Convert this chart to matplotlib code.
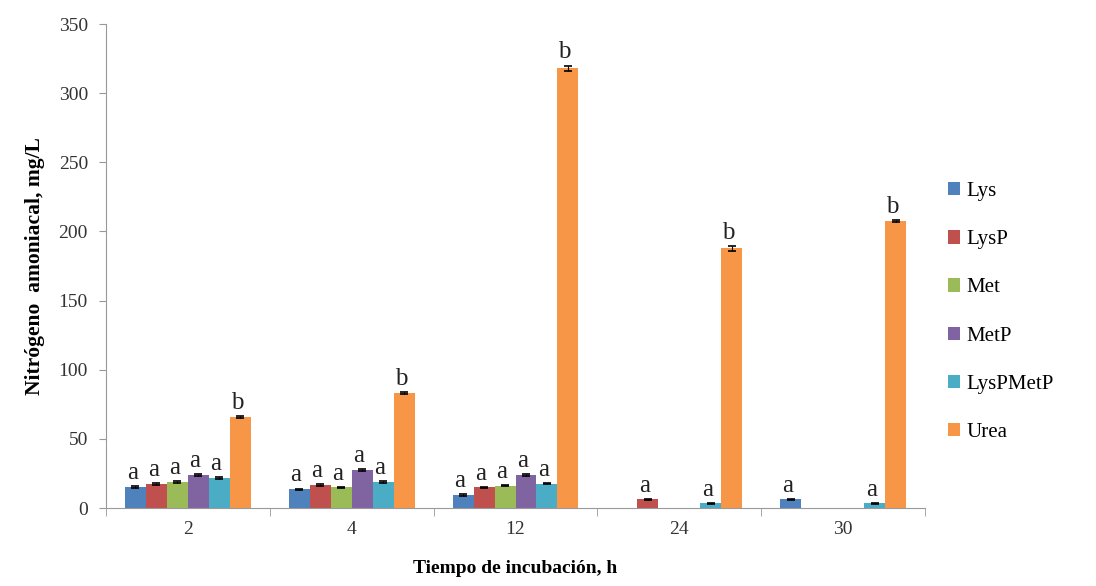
import matplotlib.pyplot as plt
import numpy as np

# ==== data ====
tiempos = ['2', '4', '12', '24', '30']
series = ['Lys', 'LysP', 'Met', 'MetP', 'LysPMetP', 'Urea']
valores = {
    'Lys':      [15.2, 13.5, 9.4, 0.0, 6.3],
    'LysP':     [17.4, 16.9, 15.0, 6.3, 0.0],
    'Met':      [19.0, 15.0, 16.1, 0.0, 0.0],
    'MetP':     [24.0, 27.3, 24.0, 0.0, 0.0],
    'LysPMetP': [21.7, 19.0, 17.6, 3.4, 3.4],
    'Urea':     [65.8, 83.0, 318.0, 187.7, 207.5],
}
errores = {
    'Lys':      [0.6, 0.6, 0.5, 0.0, 0.4],
    'LysP':     [0.6, 0.6, 0.5, 0.4, 0.0],
    'Met':      [0.6, 0.5, 0.5, 0.0, 0.0],
    'MetP':     [0.6, 0.6, 0.6, 0.0, 0.0],
    'LysPMetP': [0.6, 0.6, 0.5, 0.4, 0.4],
    'Urea':     [0.8, 0.8, 2.0, 2.0, 1.0],
}
letras = {
    'Lys':      ['a', 'a', 'a', '', 'a'],
    'LysP':     ['a', 'a', 'a', 'a', ''],
    'Met':      ['a', 'a', 'a', '', ''],
    'MetP':     ['a', 'a', 'a', '', ''],
    'LysPMetP': ['a', 'a', 'a', 'a', 'a'],
    'Urea':     ['b', 'b', 'b', 'b', 'b'],
}
colores = ['#4F81BD', '#C0504D', '#9BBB59', '#8064A2', '#4BACC6', '#F79646']

plt.rcParams['font.family'] = ['Liberation Serif', 'DejaVu Serif']

fig = plt.figure(figsize=(10.96, 5.86), dpi=100)
ax = fig.add_axes([0.0967, 0.133, 0.7473, 0.826])

x = np.arange(len(tiempos))
w = 0.128
for i, s in enumerate(series):
    pos = x + (i - 2.5) * w
    v = np.array(valores[s])
    e = np.array(errores[s])
    ax.bar(pos, v, width=w, color=colores[i], label=s)
    m = v > 0
    ax.errorbar(pos[m], v[m], yerr=e[m], fmt='none', ecolor='black',
                elinewidth=0.8, capsize=3, capthick=1.2)
    for j in range(len(tiempos)):
        if letras[s][j]:
            ax.text(pos[j] - 0.02, v[j] + e[j] + 1.5, letras[s][j],
                    ha='center', va='bottom', fontsize=18, color='#222222')

ax.set_xlim(-0.5, len(tiempos) - 0.5)
ax.set_ylim(0, 350)
ax.set_yticks(np.arange(0, 351, 50))
ax.set_xticks(x)
ax.set_xticklabels(tiempos)
ax.set_xticks(np.arange(-0.5, len(tiempos)), minor=True)
ax.tick_params(axis='x', which='major', length=0, pad=9, labelsize=14, colors='#333333')
ax.tick_params(axis='x', which='minor', length=6, color='#999999', direction='out')
ax.tick_params(axis='y', length=5, color='#999999', labelsize=14, labelcolor='#333333', pad=8)

for sp in ['top', 'right']:
    ax.spines[sp].set_visible(False)
for sp in ['left', 'bottom']:
    ax.spines[sp].set_color('#999999')

ax.set_ylabel('Nitrógeno  amoniacal, mg/L', fontsize=15.5, fontweight='bold', labelpad=10)
ax.set_xlabel('Tiempo de incubación, h', fontsize=14, fontweight='bold', labelpad=16)

ax.legend(loc='center left', bbox_to_anchor=(1.005, 0.405), frameon=False, fontsize=15,
          handlelength=0.6, handleheight=0.6, handletextpad=0.3, labelspacing=1.4)

fig.savefig('out.png', dpi=100)
